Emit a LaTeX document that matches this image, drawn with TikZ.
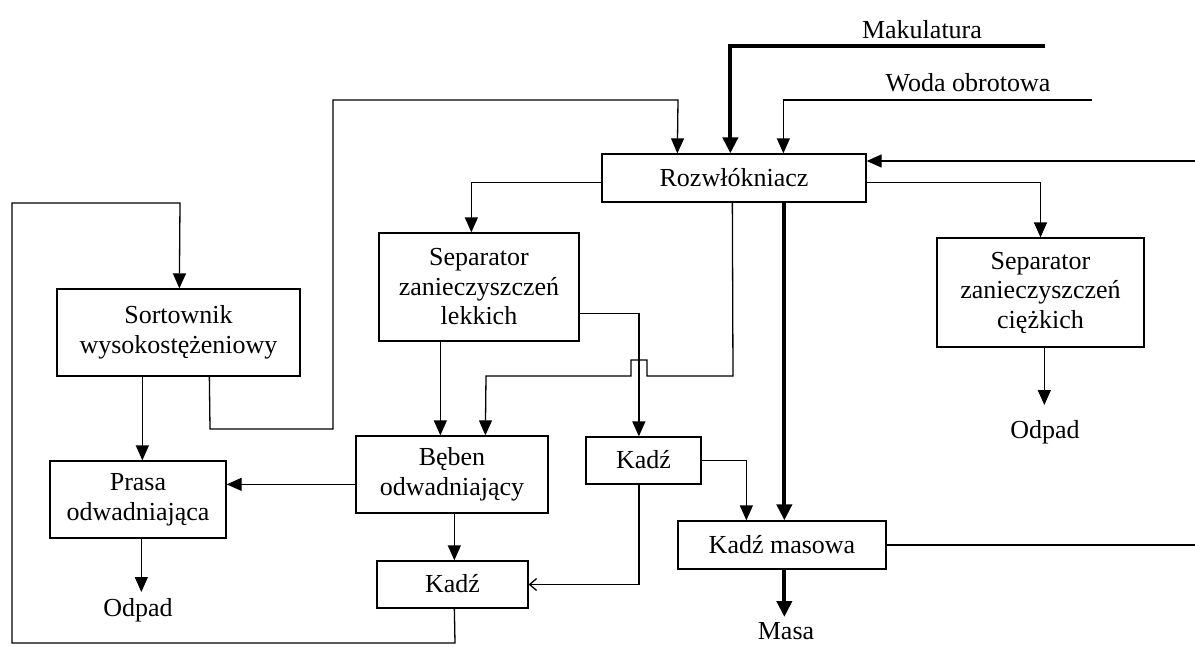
\documentclass[tikz,border=0pt]{standalone}
\usepackage{fontspec}
\setmainfont{Liberation Serif}
\usetikzlibrary{arrows.meta,calc}
\begin{document}
\begin{tikzpicture}[x=1pt,y=-1pt,
  box/.style={draw=black,line width=1.3pt,inner sep=0pt,font=\fontsize{26}{29.5}\selectfont},
  mbox/.style={box,align=center},
  one/.style={text height=19pt,text depth=3pt},
  lbl/.style={inner sep=0pt,font=\fontsize{26}{29.5}\selectfont},
  ln/.style={line width=1.3pt},
  arr/.style={ln,-{Triangle[length=15pt,width=13pt]}},
  thk/.style={line width=4pt,-{Triangle[length=16pt,width=15pt]}},
  oarr/.style={ln,-{Straight Barb[length=7pt,width=12pt]}}
]
\useasboundingbox (0,0) rectangle (1195,646);
% boxes
\node[box,one,minimum width=264pt,minimum height=48pt] (R) at (734,178) {Rozwłókniacz};
\node[mbox,minimum width=200pt,minimum height=108pt] (SL) at (479,287) {Separator\\zanieczyszczeń\\lekkich};
\node[mbox,minimum width=207pt,minimum height=109pt] (SC) at (1040.5,292.5) {Separator\\zanieczyszczeń\\ciężkich};
\node[mbox,minimum width=243pt,minimum height=87pt] (S) at (178.5,332.5) {Sortownik\\wysokostężeniowy};
\node[mbox,minimum width=192pt,minimum height=77pt] (B) at (452,474.5) {Bęben\\odwadniający};
\node[box,one,minimum width=115pt,minimum height=47pt] (KM) at (643.5,460.5) {Kadź};
\node[box,one,minimum width=151pt,minimum height=47pt] (KL) at (452.5,584.5) {Kadź};
\node[mbox,minimum width=176pt,minimum height=77pt] (P) at (138,499.5) {Prasa\\odwadniająca};
\node[box,one,minimum width=208pt,minimum height=48pt] (KMS) at (782,545) {Kadź masowa};
% labels
\node[lbl] (mak) at (922,30) {Makulatura};
\node[lbl] (woda) at (968,83) {Woda obrotowa};
\node[lbl,anchor=north] (odp1) at (138,598) {Odpad};
\node[lbl,anchor=north] (odp2) at (1045,420) {Odpad};
\node[lbl,anchor=north] (masa) at (786,622) {Masa};
% free ends
\coordinate (mkend) at (1045,46);
\coordinate (wdend) at (1092,100);
\coordinate (rin) at (1195,161);
\coordinate (kout) at (1195,544);
% connectors
\draw[thk] (mkend) -| ($(R.north west)+(129,0)$);
\draw[arr] (wdend) -| ($(R.north west)+(182,0)$);
\draw[arr] ($(S.south west)+(153,0)$) -- (210,429) -- (333,429) -- (333,100) -- (678,100) -- ($(R.north west)+(76,0)$);
\draw[arr] (rin) -- (R.east |- rin);
\draw[arr] ($(R.north east)+(0,29)$) -| (SC.north);
\draw[arr] ($(R.north west)+(0,29)$) -| ($(SL.north west)+(93,0)$);
\draw[arr] ($(R.south west)+(131,0)$) -- (733,376) -- (647,376) -- (647,360) -- (631,360) -- (631,376) -- (486,376) -- ($(B.north west)+(130,0)$);
\draw[thk] ($(R.south west)+(183,0)$) -- ($(KMS.north west)+(107,0)$);
\draw[arr] ($(SL.north east)+(0,81)$) -| ($(KM.north west)+(53.5,0)$);
\draw[arr] ($(SL.south west)+(62,0)$) -- ($(B.north west)+(85,0)$);
\draw[arr] ($(S.south west)+(86,0)$) -- ($(P.north west)+(93,0)$);
\draw[arr] ($(B.north west)+(0,49)$) -- ($(P.north east)+(0,24)$);
\draw[arr] ($(B.south west)+(99,0)$) -- ($(KL.north west)+(78,0)$);
\draw[arr] ($(KL.south west)+(78,0)$) -- (455,643) -- (12,643) -- (12,203) -- (180,203) -- ($(S.north west)+(123,0)$);
\draw[oarr] ($(KM.south west)+(53.5,0)$) |- (KL.east);
\draw[arr] (KM.east) -| ($(KMS.north west)+(69,0)$);
\draw[thk,shorten >=5pt] ($(KMS.south west)+(107,0)$) coordinate (ms) -- (ms |- masa.north);
\draw[ln] (KMS.east) -- (KMS.east -| kout);
\draw[arr,shorten >=6pt] ($(P.south west)+(92,0)$) coordinate (pb) -- (pb |- odp1.north);
\draw[arr,shorten >=15pt] ($(SC.south west)+(108,0)$) coordinate (sc) -- (sc |- odp2.north);
\end{tikzpicture}
\end{document}
